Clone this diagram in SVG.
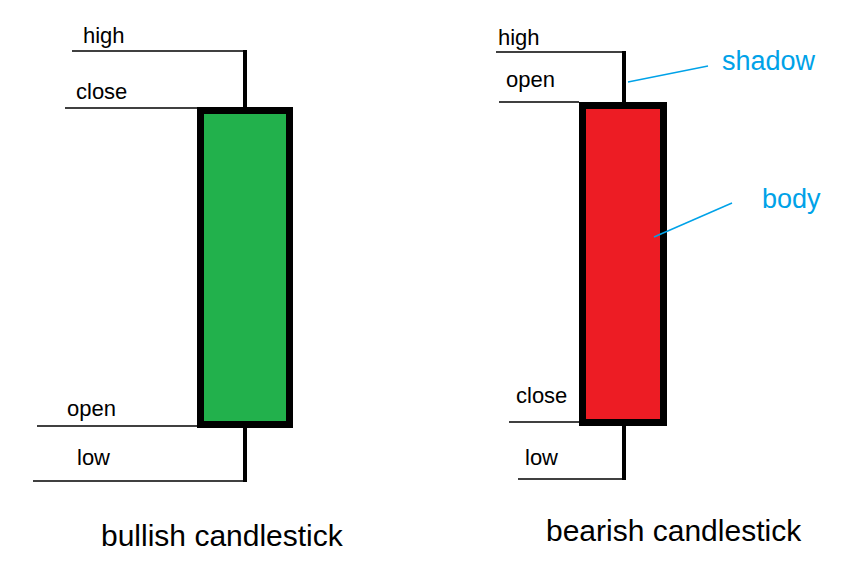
<svg xmlns="http://www.w3.org/2000/svg" width="850" height="588" viewBox="0 0 850 588">
<style>
.bg{fill:#ffffff}
.lvl{stroke:#000;stroke-width:1.5;fill:none}
.wick{stroke:#000;stroke-width:4;fill:none}
.body{stroke:#000;stroke-width:7}
.lbl{font-family:"Liberation Sans",Arial,sans-serif;font-size:22px;fill:#000}
.ann{font-family:"Liberation Sans",Arial,sans-serif;font-size:27px;fill:#00a2e8}
.ptr{stroke:#00a2e8;stroke-width:1.5;fill:none}
.title{font-family:"Liberation Sans",Arial,sans-serif;font-size:30px;fill:#000}
</style>
<rect class="bg" x="0" y="0" width="850" height="588"/>
<g id="bullish">
  <rect class="body" x="200.5" y="110.5" width="89" height="314" fill="#22b14c"/>
  <text class="lbl" x="83" y="43">high</text>
  <text class="lbl" x="76" y="99">close</text>
  <text class="lbl" x="67" y="416">open</text>
  <text class="lbl" x="77" y="465">low</text>
  <text class="title" x="101" y="546">bullish candlestick</text>
</g>
<g id="bearish">
  <rect class="body" x="582.5" y="105.5" width="81" height="317" fill="#ed1c24"/>
  <text class="lbl" x="498" y="45">high</text>
  <text class="lbl" x="506" y="87">open</text>
  <text class="lbl" x="516" y="403">close</text>
  <text class="lbl" x="525" y="465">low</text>
  <text class="title" x="546" y="541">bearish candlestick</text>
</g>
<g id="shadow-label">
  <text class="ann" x="722" y="70">shadow</text>
</g>
<g id="body-label">
  <text class="ann" x="762" y="208">body</text>
</g>
<g id="connectors">
  <line class="lvl" x1="72" y1="51" x2="247" y2="51"/>
  <line class="lvl" x1="65" y1="108" x2="197" y2="108"/>
  <line class="lvl" x1="37" y1="426" x2="197" y2="426"/>
  <line class="lvl" x1="33" y1="481" x2="247" y2="481"/>
  <line class="wick" x1="245" y1="50" x2="245" y2="107"/>
  <line class="wick" x1="245" y1="428" x2="245" y2="482"/>
  <line class="lvl" x1="496" y1="52" x2="626" y2="52"/>
  <line class="lvl" x1="499" y1="102" x2="579" y2="102"/>
  <line class="lvl" x1="509" y1="422" x2="579" y2="422"/>
  <line class="lvl" x1="518" y1="479" x2="626" y2="479"/>
  <line class="wick" x1="624" y1="51" x2="624" y2="102"/>
  <line class="wick" x1="624" y1="426" x2="624" y2="480"/>
  <line class="ptr" x1="628" y1="82" x2="708" y2="66"/>
  <line class="ptr" x1="654" y1="237" x2="732" y2="203"/>
</g>
</svg>
